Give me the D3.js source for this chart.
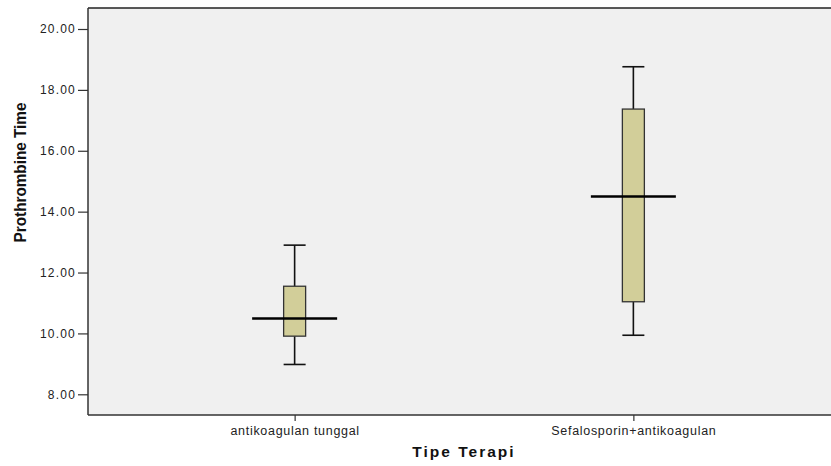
<!DOCTYPE html>
<html><head><meta charset="utf-8">
<script src="https://cdn.jsdelivr.net/npm/d3@7"></script>
<style>body{margin:0;background:#fff}svg{display:block}</style>
</head><body>
<script>
const categories = ["antikoagulan tunggal", "Sefalosporin+antikoagulan"];
const whiskerLow = [8.98, 9.94];
const q1 = [9.91, 11.04];
const median = [10.49, 14.50];
const q3 = [11.55, 17.37];
const whiskerHigh = [12.9, 18.76];
const yTicks = [8, 10, 12, 14, 16, 18, 20];
const yLabel = "Prothrombine Time";
const xLabel = "Tipe Terapi";

const W = 831, H = 466;
const L = 88, R = 840, T = 8, B = 415;
const svg = d3.select("body").append("svg").attr("width", W).attr("height", H);

const y = d3.scaleLinear().domain([7.32, 20.69]).range([B, T]);
const x = d3.scalePoint().domain(categories).range([L, R]).padding(0.61);

svg.append("rect").attr("x", L).attr("y", T).attr("width", R - L).attr("height", B - T).attr("fill", "#f0f0f0");

const data = categories.map((c, i) => ({c, lo: whiskerLow[i], q1: q1[i], med: median[i], q3: q3[i], hi: whiskerHigh[i]}));
const g = svg.append("g");
const boxW = 22, capW = 22, medW = 85;
data.forEach(d => {
  const cx = x(d.c);
  g.append("line").attr("x1", cx).attr("x2", cx).attr("y1", y(d.hi)).attr("y2", y(d.q3)).attr("stroke", "#111").attr("stroke-width", 1.6);
  g.append("line").attr("x1", cx).attr("x2", cx).attr("y1", y(d.q1)).attr("y2", y(d.lo)).attr("stroke", "#111").attr("stroke-width", 1.6);
  g.append("line").attr("x1", cx - capW/2).attr("x2", cx + capW/2).attr("y1", y(d.hi)).attr("y2", y(d.hi)).attr("stroke", "#111").attr("stroke-width", 1.6);
  g.append("line").attr("x1", cx - capW/2).attr("x2", cx + capW/2).attr("y1", y(d.lo)).attr("y2", y(d.lo)).attr("stroke", "#111").attr("stroke-width", 1.6);
  g.append("rect").attr("x", cx - boxW/2).attr("y", y(d.q3)).attr("width", boxW).attr("height", y(d.q1) - y(d.q3))
    .attr("fill", "#d2ce99").attr("stroke", "#333").attr("stroke-width", 1.3);
  g.append("line").attr("x1", cx - medW/2).attr("x2", cx + medW/2).attr("y1", y(d.med)).attr("y2", y(d.med)).attr("stroke", "#000").attr("stroke-width", 2.6);
});

svg.append("line").attr("x1", L).attr("x2", R).attr("y1", T).attr("y2", T).attr("stroke", "#222").attr("stroke-width", 1.5);

const yAxis = svg.append("g").attr("transform", `translate(${L},0)`)
  .call(d3.axisLeft(y).tickValues(yTicks).tickFormat(d3.format(".2f")).tickSize(10).tickPadding(2));
yAxis.select(".domain").attr("stroke", "#333").attr("stroke-width", 1.5).attr("d", `M0,${T}V${B}`);
yAxis.selectAll(".tick line").attr("stroke", "#333").attr("stroke-width", 1.2);
yAxis.selectAll(".tick text").attr("fill", "#222").style("font-family", "Arial, 'Liberation Sans', sans-serif").style("font-size", "12px").style("letter-spacing", "1.2px");

const xAxis = svg.append("g").attr("transform", `translate(0,${B})`)
  .call(d3.axisBottom(x).tickSize(6).tickPadding(5));
xAxis.select(".domain").attr("stroke", "#333").attr("stroke-width", 1.5).attr("d", `M${L},0H${R}`);
xAxis.selectAll(".tick line").attr("stroke", "#333").attr("stroke-width", 1.2);
xAxis.selectAll(".tick text").attr("fill", "#222").style("font-family", "Arial, 'Liberation Sans', sans-serif").style("font-size", "12.5px").style("letter-spacing", "0.7px");

svg.append("text").attr("x", (L + R) / 2).attr("y", 457).attr("text-anchor", "middle")
  .style("font-family", "Arial, 'Liberation Sans', sans-serif").style("font-weight", "bold").style("font-size", "15.5px").style("letter-spacing", "2px")
  .attr("fill", "#111").text(xLabel);

svg.append("text").attr("transform", `translate(26,${(T + B) / 2 - 39}) rotate(-90) scale(0.9,0.95)`).attr("text-anchor", "middle")
  .style("font-family", "Arial, 'Liberation Sans', sans-serif").style("font-weight", "bold").style("font-size", "17px")
  .attr("fill", "#111").text(yLabel);
</script>
</body></html>
